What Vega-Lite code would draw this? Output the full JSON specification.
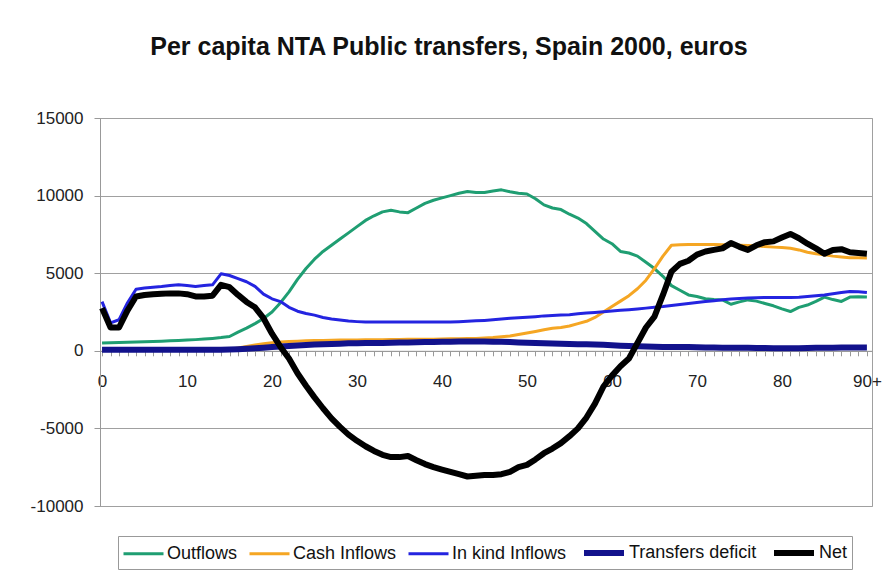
{
"$schema":"https://vega.github.io/schema/vega-lite/v6.json",
"width":772,"height":388,
"autosize":{"type":"none"},
"padding":{"left":100,"top":118,"right":13,"bottom":69},
"background":"white",
"config":{"view":{"stroke":"#a0a0a0","strokeWidth":1},"font":"Liberation Sans"},
"title":{"text":"Per capita NTA Public transfers, Spain 2000, euros","fontSize":25,"fontWeight":"bold","font":"Liberation Sans","color":"#111111","anchor":"middle","dx":-37,"offset":29,"baseline":"alphabetic"},
"datasets":{
"outflows":[
{"age":0,"value":500},{"age":1,"value":520},{"age":2,"value":530},{"age":3,"value":550},{"age":4,"value":560},{"age":5,"value":580},{"age":6,"value":600},{"age":7,"value":620},{"age":8,"value":640},{"age":9,"value":660},
{"age":10,"value":690},{"age":11,"value":720},{"age":12,"value":760},{"age":13,"value":800},{"age":14,"value":850},{"age":15,"value":920},{"age":16,"value":1200},{"age":17,"value":1460},{"age":18,"value":1750},{"age":19,"value":2080},
{"age":20,"value":2500},{"age":21,"value":3100},{"age":22,"value":3800},{"age":23,"value":4600},{"age":24,"value":5300},{"age":25,"value":5900},{"age":26,"value":6400},{"age":27,"value":6800},{"age":28,"value":7200},{"age":29,"value":7600},
{"age":30,"value":8000},{"age":31,"value":8400},{"age":32,"value":8700},{"age":33,"value":8950},{"age":34,"value":9050},{"age":35,"value":8950},{"age":36,"value":8900},{"age":37,"value":9200},{"age":38,"value":9500},{"age":39,"value":9700},
{"age":40,"value":9850},{"age":41,"value":10000},{"age":42,"value":10150},{"age":43,"value":10260},{"age":44,"value":10200},{"age":45,"value":10200},{"age":46,"value":10300},{"age":47,"value":10370},{"age":48,"value":10250},{"age":49,"value":10150},
{"age":50,"value":10100},{"age":51,"value":9800},{"age":52,"value":9400},{"age":53,"value":9200},{"age":54,"value":9100},{"age":55,"value":8800},{"age":56,"value":8550},{"age":57,"value":8200},{"age":58,"value":7700},{"age":59,"value":7200},
{"age":60,"value":6900},{"age":61,"value":6400},{"age":62,"value":6300},{"age":63,"value":6100},{"age":64,"value":5700},{"age":65,"value":5300},{"age":66,"value":4800},{"age":67,"value":4200},{"age":68,"value":3900},{"age":69,"value":3600},
{"age":70,"value":3500},{"age":71,"value":3350},{"age":72,"value":3300},{"age":73,"value":3280},{"age":74,"value":3000},{"age":75,"value":3150},{"age":76,"value":3280},{"age":77,"value":3200},{"age":78,"value":3050},{"age":79,"value":2900},
{"age":80,"value":2700},{"age":81,"value":2530},{"age":82,"value":2800},{"age":83,"value":2950},{"age":84,"value":3180},{"age":85,"value":3460},{"age":86,"value":3300},{"age":87,"value":3180},{"age":88,"value":3460},{"age":89,"value":3480},
{"age":90,"value":3460}],
"cash":[
{"age":0,"value":40},{"age":1,"value":40},{"age":2,"value":40},{"age":3,"value":40},{"age":4,"value":40},{"age":5,"value":40},{"age":6,"value":40},{"age":7,"value":40},{"age":8,"value":40},{"age":9,"value":40},
{"age":10,"value":40},{"age":11,"value":40},{"age":12,"value":40},{"age":13,"value":40},{"age":14,"value":40},{"age":15,"value":80},{"age":16,"value":180},{"age":17,"value":280},{"age":18,"value":370},{"age":19,"value":450},
{"age":20,"value":520},{"age":21,"value":570},{"age":22,"value":600},{"age":23,"value":620},{"age":24,"value":640},{"age":25,"value":660},{"age":26,"value":670},{"age":27,"value":680},{"age":28,"value":690},{"age":29,"value":700},
{"age":30,"value":700},{"age":31,"value":710},{"age":32,"value":720},{"age":33,"value":720},{"age":34,"value":730},{"age":35,"value":730},{"age":36,"value":740},{"age":37,"value":740},{"age":38,"value":750},{"age":39,"value":750},
{"age":40,"value":760},{"age":41,"value":770},{"age":42,"value":780},{"age":43,"value":790},{"age":44,"value":800},{"age":45,"value":820},{"age":46,"value":850},{"age":47,"value":900},{"age":48,"value":950},{"age":49,"value":1050},
{"age":50,"value":1150},{"age":51,"value":1250},{"age":52,"value":1350},{"age":53,"value":1450},{"age":54,"value":1500},{"age":55,"value":1600},{"age":56,"value":1750},{"age":57,"value":1900},{"age":58,"value":2150},{"age":59,"value":2500},
{"age":60,"value":2850},{"age":61,"value":3200},{"age":62,"value":3550},{"age":63,"value":4000},{"age":64,"value":4550},{"age":65,"value":5300},{"age":66,"value":6100},{"age":67,"value":6800},{"age":68,"value":6830},{"age":69,"value":6850},
{"age":70,"value":6850},{"age":71,"value":6850},{"age":72,"value":6850},{"age":73,"value":6840},{"age":74,"value":6820},{"age":75,"value":6800},{"age":76,"value":6780},{"age":77,"value":6750},{"age":78,"value":6720},{"age":79,"value":6680},
{"age":80,"value":6650},{"age":81,"value":6610},{"age":82,"value":6500},{"age":83,"value":6350},{"age":84,"value":6250},{"age":85,"value":6180},{"age":86,"value":6100},{"age":87,"value":6050},{"age":88,"value":6000},{"age":89,"value":5990},
{"age":90,"value":5980}],
"inkind":[
{"age":0,"value":3170},{"age":1,"value":1800},{"age":2,"value":2000},{"age":3,"value":3100},{"age":4,"value":3970},{"age":5,"value":4050},{"age":6,"value":4100},{"age":7,"value":4140},{"age":8,"value":4200},{"age":9,"value":4250},
{"age":10,"value":4200},{"age":11,"value":4140},{"age":12,"value":4200},{"age":13,"value":4250},{"age":14,"value":4960},{"age":15,"value":4850},{"age":16,"value":4650},{"age":17,"value":4450},{"age":18,"value":4150},{"age":19,"value":3650},
{"age":20,"value":3350},{"age":21,"value":3170},{"age":22,"value":2800},{"age":23,"value":2550},{"age":24,"value":2400},{"age":25,"value":2300},{"age":26,"value":2150},{"age":27,"value":2050},{"age":28,"value":1980},{"age":29,"value":1920},
{"age":30,"value":1880},{"age":31,"value":1850},{"age":32,"value":1850},{"age":33,"value":1850},{"age":34,"value":1850},{"age":35,"value":1850},{"age":36,"value":1850},{"age":37,"value":1850},{"age":38,"value":1850},{"age":39,"value":1850},
{"age":40,"value":1850},{"age":41,"value":1850},{"age":42,"value":1870},{"age":43,"value":1900},{"age":44,"value":1930},{"age":45,"value":1960},{"age":46,"value":2000},{"age":47,"value":2050},{"age":48,"value":2100},{"age":49,"value":2130},
{"age":50,"value":2160},{"age":51,"value":2200},{"age":52,"value":2250},{"age":53,"value":2270},{"age":54,"value":2300},{"age":55,"value":2330},{"age":56,"value":2380},{"age":57,"value":2430},{"age":58,"value":2470},{"age":59,"value":2520},
{"age":60,"value":2560},{"age":61,"value":2610},{"age":62,"value":2650},{"age":63,"value":2700},{"age":64,"value":2750},{"age":65,"value":2800},{"age":66,"value":2850},{"age":67,"value":2920},{"age":68,"value":2980},{"age":69,"value":3050},
{"age":70,"value":3110},{"age":71,"value":3170},{"age":72,"value":3230},{"age":73,"value":3290},{"age":74,"value":3330},{"age":75,"value":3370},{"age":76,"value":3400},{"age":77,"value":3420},{"age":78,"value":3430},{"age":79,"value":3430},
{"age":80,"value":3430},{"age":81,"value":3430},{"age":82,"value":3450},{"age":83,"value":3500},{"age":84,"value":3550},{"age":85,"value":3600},{"age":86,"value":3680},{"age":87,"value":3760},{"age":88,"value":3820},{"age":89,"value":3800},
{"age":90,"value":3750}],
"deficit":[
{"age":0,"value":60},{"age":1,"value":60},{"age":2,"value":60},{"age":3,"value":60},{"age":4,"value":60},{"age":5,"value":60},{"age":6,"value":60},{"age":7,"value":60},{"age":8,"value":60},{"age":9,"value":60},
{"age":10,"value":60},{"age":11,"value":60},{"age":12,"value":60},{"age":13,"value":60},{"age":14,"value":60},{"age":15,"value":80},{"age":16,"value":100},{"age":17,"value":130},{"age":18,"value":160},{"age":19,"value":200},
{"age":20,"value":240},{"age":21,"value":280},{"age":22,"value":310},{"age":23,"value":340},{"age":24,"value":370},{"age":25,"value":400},{"age":26,"value":420},{"age":27,"value":440},{"age":28,"value":460},{"age":29,"value":480},
{"age":30,"value":490},{"age":31,"value":500},{"age":32,"value":500},{"age":33,"value":510},{"age":34,"value":520},{"age":35,"value":530},{"age":36,"value":540},{"age":37,"value":550},{"age":38,"value":560},{"age":39,"value":570},
{"age":40,"value":580},{"age":41,"value":590},{"age":42,"value":600},{"age":43,"value":600},{"age":44,"value":600},{"age":45,"value":600},{"age":46,"value":590},{"age":47,"value":580},{"age":48,"value":560},{"age":49,"value":540},
{"age":50,"value":520},{"age":51,"value":500},{"age":52,"value":490},{"age":53,"value":470},{"age":54,"value":450},{"age":55,"value":440},{"age":56,"value":430},{"age":57,"value":420},{"age":58,"value":410},{"age":59,"value":390},
{"age":60,"value":360},{"age":61,"value":330},{"age":62,"value":310},{"age":63,"value":290},{"age":64,"value":270},{"age":65,"value":260},{"age":66,"value":250},{"age":67,"value":240},{"age":68,"value":240},{"age":69,"value":240},
{"age":70,"value":230},{"age":71,"value":220},{"age":72,"value":210},{"age":73,"value":200},{"age":74,"value":200},{"age":75,"value":190},{"age":76,"value":190},{"age":77,"value":180},{"age":78,"value":180},{"age":79,"value":170},
{"age":80,"value":170},{"age":81,"value":170},{"age":82,"value":170},{"age":83,"value":180},{"age":84,"value":190},{"age":85,"value":200},{"age":86,"value":200},{"age":87,"value":210},{"age":88,"value":210},{"age":89,"value":210},
{"age":90,"value":210}],
"net":[
{"age":0,"value":2750},{"age":1,"value":1500},{"age":2,"value":1500},{"age":3,"value":2600},{"age":4,"value":3500},{"age":5,"value":3600},{"age":6,"value":3650},{"age":7,"value":3670},{"age":8,"value":3700},{"age":9,"value":3700},
{"age":10,"value":3650},{"age":11,"value":3500},{"age":12,"value":3500},{"age":13,"value":3550},{"age":14,"value":4250},{"age":15,"value":4100},{"age":16,"value":3600},{"age":17,"value":3150},{"age":18,"value":2800},{"age":19,"value":2100},
{"age":20,"value":1100},{"age":21,"value":250},{"age":22,"value":-500},{"age":23,"value":-1450},{"age":24,"value":-2250},{"age":25,"value":-3000},{"age":26,"value":-3700},{"age":27,"value":-4350},{"age":28,"value":-4900},{"age":29,"value":-5400},
{"age":30,"value":-5800},{"age":31,"value":-6150},{"age":32,"value":-6450},{"age":33,"value":-6700},{"age":34,"value":-6850},{"age":35,"value":-6850},{"age":36,"value":-6780},{"age":37,"value":-7050},{"age":38,"value":-7300},{"age":39,"value":-7490},
{"age":40,"value":-7650},{"age":41,"value":-7800},{"age":42,"value":-7950},{"age":43,"value":-8100},{"age":44,"value":-8050},{"age":45,"value":-8000},{"age":46,"value":-8000},{"age":47,"value":-7950},{"age":48,"value":-7800},{"age":49,"value":-7500},
{"age":50,"value":-7350},{"age":51,"value":-7000},{"age":52,"value":-6600},{"age":53,"value":-6300},{"age":54,"value":-5950},{"age":55,"value":-5500},{"age":56,"value":-5000},{"age":57,"value":-4300},{"age":58,"value":-3400},{"age":59,"value":-2300},
{"age":60,"value":-1600},{"age":61,"value":-1000},{"age":62,"value":-500},{"age":63,"value":500},{"age":64,"value":1500},{"age":65,"value":2200},{"age":66,"value":3600},{"age":67,"value":5100},{"age":68,"value":5600},{"age":69,"value":5800},
{"age":70,"value":6200},{"age":71,"value":6400},{"age":72,"value":6500},{"age":73,"value":6600},{"age":74,"value":6940},{"age":75,"value":6700},{"age":76,"value":6500},{"age":77,"value":6800},{"age":78,"value":7000},{"age":79,"value":7050},
{"age":80,"value":7300},{"age":81,"value":7530},{"age":82,"value":7250},{"age":83,"value":6900},{"age":84,"value":6600},{"age":85,"value":6250},{"age":86,"value":6500},{"age":87,"value":6550},{"age":88,"value":6350},{"age":89,"value":6300},
{"age":90,"value":6250}]
},
"encoding":{
"x":{"field":"age","type":"quantitative","scale":{"domain":[-0.24,90.6],"nice":false,"zero":false},
 "axis":{"title":null,"grid":false,"offset":-155.2,"values":[0,1,2,3,4,5,6,7,8,9,10,11,12,13,14,15,16,17,18,19,20,21,22,23,24,25,26,27,28,29,30,31,32,33,34,35,36,37,38,39,40,41,42,43,44,45,46,47,48,49,50,51,52,53,54,55,56,57,58,59,60,61,62,63,64,65,66,67,68,69,70,71,72,73,74,75,76,77,78,79,80,81,82,83,84,85,86,87,88,89,90],
 "labelExpr":"datum.value % 10 === 0 ? (datum.value === 90 ? '90+' : '' + datum.value) : ''","labelOverlap":false,"labelFlush":false,
 "labelFontSize":17,"labelColor":"#222222","labelPadding":18,"tickSize":5,"tickColor":"#999999","domainColor":"#999999"}},
"y":{"field":"value","type":"quantitative","scale":{"domain":[-10000,15000],"nice":false},
 "axis":{"title":null,"values":[-10000,-5000,0,5000,10000,15000],"labelExpr":"'' + datum.value","labelFontSize":17,"labelColor":"#222222","labelPadding":11,"tickSize":6,"tickColor":"#999999","domainColor":"#999999","gridColor":"#a0a0a0","gridWidth":1}},
"color":{"datum":"Outflows","type":"nominal","scale":{"domain":["Outflows","Cash Inflows","In kind Inflows","Transfers deficit","Net"],"range":["#1f9e72","#f5a623","#2424e0","#12128c","#000000"]},
 "legend":{"title":null,"orient":"none","legendX":18,"legendY":418,"direction":"horizontal","strokeColor":"#999999","fillColor":"white","padding":4,"symbolType":"M-1,0H3","symbolSize":400,"labelFontSize":18,"labelColor":"#111111","labelOffset":22,"columnPadding":5}},
"strokeWidth":{"datum":"Outflows","type":"nominal","scale":{"type":"ordinal","domain":["Outflows","Cash Inflows","In kind Inflows","Transfers deficit","Net"],"range":[3,3,3,6,6]},"legend":null}
},
"layer":[
{"data":{"name":"outflows"},"mark":{"type":"line","strokeJoin":"round"},"encoding":{"color":{"datum":"Outflows","type":"nominal"},"strokeWidth":{"datum":"Outflows","type":"nominal"}}},
{"data":{"name":"cash"},"mark":{"type":"line","strokeJoin":"round"},"encoding":{"color":{"datum":"Cash Inflows","type":"nominal"},"strokeWidth":{"datum":"Cash Inflows","type":"nominal"}}},
{"data":{"name":"inkind"},"mark":{"type":"line","strokeJoin":"round"},"encoding":{"color":{"datum":"In kind Inflows","type":"nominal"},"strokeWidth":{"datum":"In kind Inflows","type":"nominal"}}},
{"data":{"name":"deficit"},"mark":{"type":"line","strokeJoin":"round"},"encoding":{"color":{"datum":"Transfers deficit","type":"nominal"},"strokeWidth":{"datum":"Transfers deficit","type":"nominal"}}},
{"data":{"name":"net"},"mark":{"type":"line","strokeJoin":"round"},"encoding":{"color":{"datum":"Net","type":"nominal"},"strokeWidth":{"datum":"Net","type":"nominal"}}}
]
}
